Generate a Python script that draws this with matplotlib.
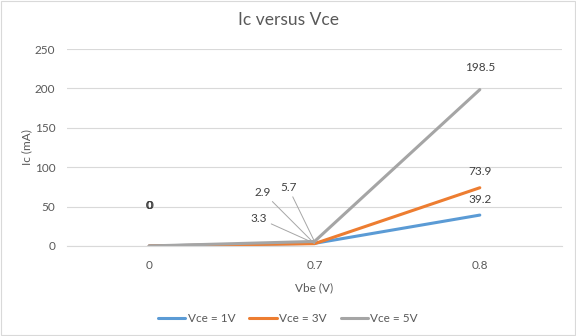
import matplotlib.pyplot as plt

# data
vbe = ['0', '0.7', '0.8']
ic_1v = [0, 3.3, 39.2]
ic_3v = [0, 2.9, 73.9]
ic_5v = [0, 5.7, 198.5]

series = [('Vce = 1V', ic_1v, '#5B9BD5'),
          ('Vce = 3V', ic_3v, '#ED7D31'),
          ('Vce = 5V', ic_5v, '#A5A5A5')]

plt.rcParams['font.family'] = ['Lato', 'DejaVu Sans']
txt = '#595959'
fs = 8.5

fig = plt.figure(figsize=(5.76, 3.36), dpi=100)
ax = fig.add_axes([0.1155, 0.268, 0.861, 0.586])
x = list(range(len(vbe)))

for name, vals, col in series:
    ax.plot(x, vals, color=col, lw=2.2, label=name, solid_capstyle='round')

ax.set_xlim(-0.5, 2.5)
ax.set_ylim(0, 250)
ax.set_yticks(range(0, 251, 50))
ax.set_xticks(x)
ax.set_xticklabels(vbe)
ax.grid(axis='y', color='#D9D9D9', lw=0.8)
ax.set_axisbelow(True)
for s in ['top', 'right', 'left']:
    ax.spines[s].set_visible(False)
ax.spines['bottom'].set_color('#D9D9D9')
ax.tick_params(length=0, colors=txt, labelsize=fs)
ax.tick_params(axis='y', pad=8)
ax.tick_params(axis='x', pad=10)

fig.text(0.5, 0.94, 'Ic versus Vce', color=txt, fontsize=12.5, ha='center', va='center')
ax.set_xlabel('Vbe (V)', color=txt, fontsize=fs, labelpad=8)
ax.set_ylabel('Ic (mA)', color=txt, fontsize=fs, labelpad=2)

# data labels
lab = dict(color='#404040', fontsize=fs, ha='center', va='center')
for dx in (-0.3, 0, 0.3):
    ax.annotate('0', (0, 0), xytext=(dx, 29), textcoords='offset points', **lab)
ax.annotate('39.2', (2, ic_1v[2]), xytext=(0, 11), textcoords='offset points', **lab)
ax.annotate('73.9', (2, ic_3v[2]), xytext=(0, 12), textcoords='offset points', **lab)
ax.annotate('198.5', (2, ic_5v[2]), xytext=(0, 16), textcoords='offset points', **lab)

lead = dict(arrowstyle='-', color='#A6A6A6', lw=0.7, shrinkA=1, shrinkB=0)
ax.annotate('3.3', (1, ic_1v[1]), xytext=(-40, 18), textcoords='offset points',
            arrowprops=lead, **lab)
ax.annotate('2.9', (1, ic_3v[1]), xytext=(-37, 37), textcoords='offset points',
            arrowprops=lead, **lab)
ax.annotate('5.7', (1, ic_5v[1]), xytext=(-19, 39), textcoords='offset points',
            arrowprops=lead, **lab)

leg = fig.legend(loc='center', bbox_to_anchor=(0.5, 0.053), ncol=3,
                 frameon=False, fontsize=fs, handlelength=2.3,
                 columnspacing=1.2, handletextpad=0.2)
for t in leg.get_texts():
    t.set_color(txt)

fig.patches.append(plt.Rectangle((0.001, 0.002), 0.997, 0.995, transform=fig.transFigure,
                                 fill=False, edgecolor='#D9D9D9', lw=0.8))

fig.savefig('out.png', dpi=100)
